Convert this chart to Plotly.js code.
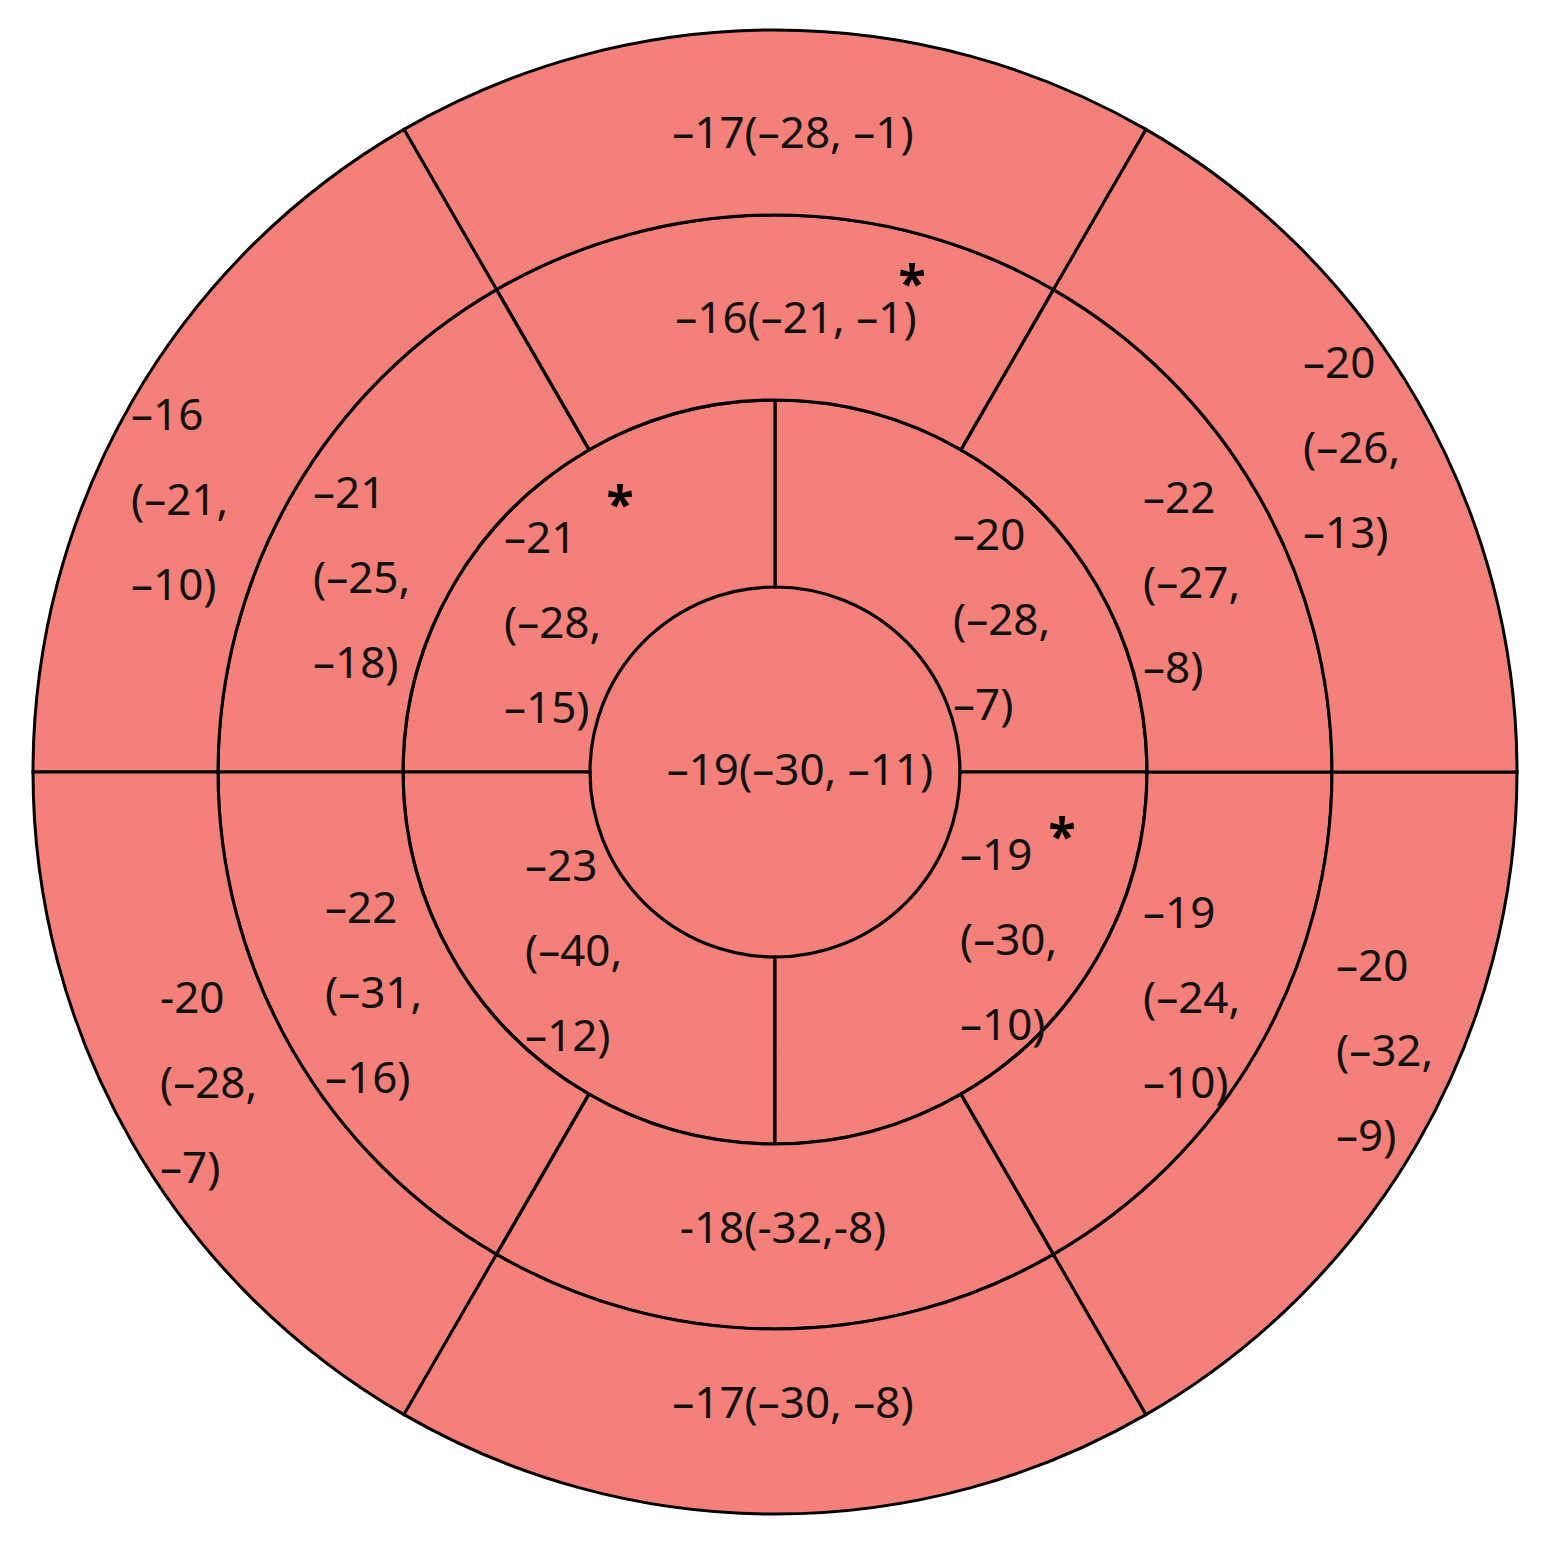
<!DOCTYPE html>
<html>
<head>
<meta charset="utf-8">
<script src="https://cdn.plot.ly/plotly-3.0.1.min.js"></script>
<style>
  html, body { margin: 0; padding: 0; background: #fff; }
  #chart { width: 1547px; height: 1541px; }
</style>
</head>
<body>
<div id="chart"></div>
<script>
// ring edges (radial units, apex -> basal)
const ringEdges = [0, 185, 372, 557, 742];

// basal ring, 6 segments (theta = segment centre, deg, counter-clockwise from 3 o'clock)
const basalTheta = [90, 150, 210, 270, 330, 30];
const basalLabels = [
  ['–17(–28, –1)'],
  ['–16', '(–21,', '–10)'],
  ['-20', '(–28,', '–7)'],
  ['–17(–30, –8)'],
  ['–20', '(–32,', '–9)'],
  ['–20', '(–26,', '–13)']
];

// mid ring, 6 segments
const midTheta = [90, 150, 210, 270, 330, 30];
const midLabels = [
  ['–16(–21, –1)'],
  ['–21', '(–25,', '–18)'],
  ['–22', '(–31,', '–16)'],
  ['-18(-32,-8)'],
  ['–19', '(–24,', '–10)'],
  ['–22', '(–27,', '–8)']
];

// apical ring, 4 segments
const apicalTheta = [45, 135, 225, 315];
const apicalLabels = [
  ['–20', '(–28,', '–7)'],
  ['–21', '(–28,', '–15)'],
  ['–23', '(–40,', '–12)'],
  ['–19', '(–30,', '–10)']
];

// apex
const apexLabel = ['–19(–30, –11)'];

// label anchors in page pixels: [x, y of first line, anchor]
const CX = 775, CY = 772, LINE_STEP = 85, RMAX = 746;
const basalPos = [[793, 137, 'c'], [131, 419, 'l'], [160, 1002, 'l'], [793, 1407, 'c'], [1336, 970, 'l'], [1303, 367, 'l']];
const midPos = [[796, 322, 'c'], [313, 497, 'l'], [325, 912, 'l'], [783, 1232, 'c'], [1143, 917, 'l'], [1143, 502, 'l']];
const apicalPos = [[953, 539, 'l'], [504, 542, 'l'], [525, 870, 'l'], [960, 859, 'l']];
const apexPos = [800, 774, 'c'];
// significance marks
const starPos = [[912, 288], [620, 509], [1062, 841]];

const FILL = '#F4807A';
const LINE = '#000';

function toPolar(x, y) {
  const dx = x - CX, dy = CY - y;
  return [Math.hypot(dx, dy), Math.atan2(dy, dx) * 180 / Math.PI];
}

function ring(theta, inner, outer, width, lw) {
  return {
    type: 'barpolar',
    theta: theta,
    r: theta.map(() => outer - inner),
    base: theta.map(() => inner),
    width: theta.map(() => width),
    marker: { color: FILL, line: { color: LINE, width: lw } },
    hoverinfo: 'skip',
    showlegend: false
  };
}

const traces = [
  ring([0], ringEdges[0], ringEdges[1], 360, 0),
  ring(apicalTheta, ringEdges[1], ringEdges[2], 90, 3.2),
  ring(midTheta, ringEdges[2], ringEdges[3], 60, 3.2),
  ring(basalTheta, ringEdges[3], ringEdges[4], 60, 3)
];

// text labels, one point per line
const txt = { l: { r: [], t: [], s: [] }, c: { r: [], t: [], s: [] } };
function addLabel(lines, pos) {
  lines.forEach((s, i) => {
    const p = toPolar(pos[0], pos[1] + i * LINE_STEP);
    const g = txt[pos[2]];
    g.r.push(p[0]); g.t.push(p[1]); g.s.push(s);
  });
}
basalLabels.forEach((l, i) => addLabel(l, basalPos[i]));
midLabels.forEach((l, i) => addLabel(l, midPos[i]));
apicalLabels.forEach((l, i) => addLabel(l, apicalPos[i]));
addLabel(apexLabel, apexPos);

const font = { family: 'Noto Sans, Open Sans, sans-serif', size: 44, color: '#111' };
traces.push({
  type: 'scatterpolar', mode: 'text',
  r: txt.l.r, theta: txt.l.t, text: txt.l.s,
  textposition: 'middle right', textfont: font,
  hoverinfo: 'skip', showlegend: false, cliponaxis: false
});
traces.push({
  type: 'scatterpolar', mode: 'text',
  r: txt.c.r, theta: txt.c.t, text: txt.c.s,
  textposition: 'middle center', textfont: font,
  hoverinfo: 'skip', showlegend: false, cliponaxis: false
});
const stars = starPos.map(p => toPolar(p[0], p[1]));
traces.push({
  type: 'scatterpolar', mode: 'text',
  r: stars.map(p => p[0]), theta: stars.map(p => p[1]), text: stars.map(() => '<b>*</b>'),
  textposition: 'middle center',
  textfont: { family: 'Noto Sans, sans-serif', size: 50, color: '#000' },
  hoverinfo: 'skip', showlegend: false, cliponaxis: false
});

const W = 1547, H = 1541;
const layout = {
  width: W, height: H,
  margin: { l: 0, r: 0, t: 0, b: 0 },
  paper_bgcolor: '#fff',
  showlegend: false,
  polar: {
    domain: { x: [(CX - RMAX) / W, (CX + RMAX) / W], y: [(H - CY - RMAX) / H, (H - CY + RMAX) / H] },
    barmode: 'overlay',
    bgcolor: 'rgba(0,0,0,0)',
    hole: 0,
    radialaxis: { range: [0, RMAX], visible: false, showgrid: false, showline: false, showticklabels: false, ticks: '' },
    angularaxis: { visible: false, showgrid: false, showline: false, showticklabels: false, ticks: '', rotation: 0, direction: 'counterclockwise' }
  }
};

Plotly.newPlot('chart', traces, layout, { displayModeBar: false, staticPlot: true });
</script>
</body>
</html>
